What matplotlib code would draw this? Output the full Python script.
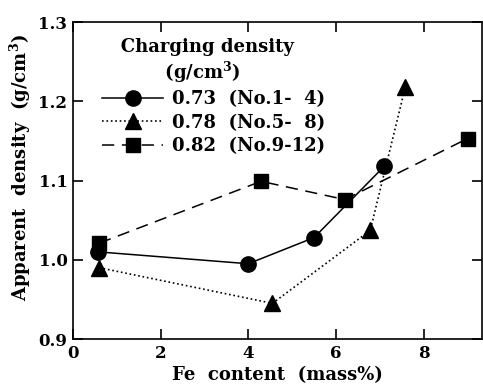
import matplotlib
matplotlib.use("Agg")
import matplotlib.pyplot as plt

# data
fe_073 = [0.57, 4.0, 5.5, 7.1]
ad_073 = [1.010, 0.995, 1.028, 1.118]
fe_078 = [0.6, 4.55, 6.78, 7.58]
ad_078 = [0.990, 0.945, 1.037, 1.218]
fe_082 = [0.6, 4.29, 6.2, 9.0]
ad_082 = [1.021, 1.099, 1.076, 1.153]
labels = ["0.73  (No.1-  4)", "0.78  (No.5-  8)", "0.82  (No.9-12)"]

plt.rcParams['font.family'] = ['DejaVu Serif']
plt.rcParams['font.weight'] = 'bold'
plt.rcParams['mathtext.fontset'] = 'dejavuserif'

fig = plt.figure(figsize=(4.83, 3.87), dpi=100)
ax = fig.add_axes([0.151, 0.124, 0.847, 0.819])

ax.plot(fe_073, ad_073, '-', color='black', lw=1.1, marker='o', ms=11, label=labels[0])
ax.plot(fe_078, ad_078, ':', color='black', lw=1.2, marker='^', ms=11, label=labels[1])
ax.plot(fe_082, ad_082, '--', color='black', lw=1.1, marker='s', ms=10,
        dashes=(8, 5), label=labels[2])

ax.set_xlim(0, 9.33)
ax.set_ylim(0.9, 1.3)
ax.set_xticks([0, 2, 4, 6, 8])
ax.set_yticks([0.9, 1.0, 1.1, 1.2, 1.3])
ax.set_yticklabels(['0.9', '1.0', '1.1', '1.2', '1.3'])
ax.tick_params(direction='in', length=7, width=1.2, top=True, right=True,
               labelsize=12, pad=4)
for s in ax.spines.values():
    s.set_linewidth(1.2)

ax.set_xlabel('Fe  content  (mass%)', fontsize=13, fontweight='bold', labelpad=3)
ax.set_ylabel('Apparent  density  (g/cm$^\\mathbf{3}$)', fontsize=13, fontweight='bold')
ax.yaxis.set_label_coords(-0.098, 0.54)

leg = ax.legend(loc='upper left', bbox_to_anchor=(0.04, 0.99), frameon=False,
                title='   Charging density\n          (g/cm$^\\mathbf{3}$)',
                fontsize=13, title_fontsize=13, handlelength=3.4,
                handletextpad=0.5, labelspacing=0.3, borderpad=0.2)
leg.get_title().set_fontweight('bold')
leg._legend_box.align = 'left'

fig.savefig('out.png', dpi=100)
